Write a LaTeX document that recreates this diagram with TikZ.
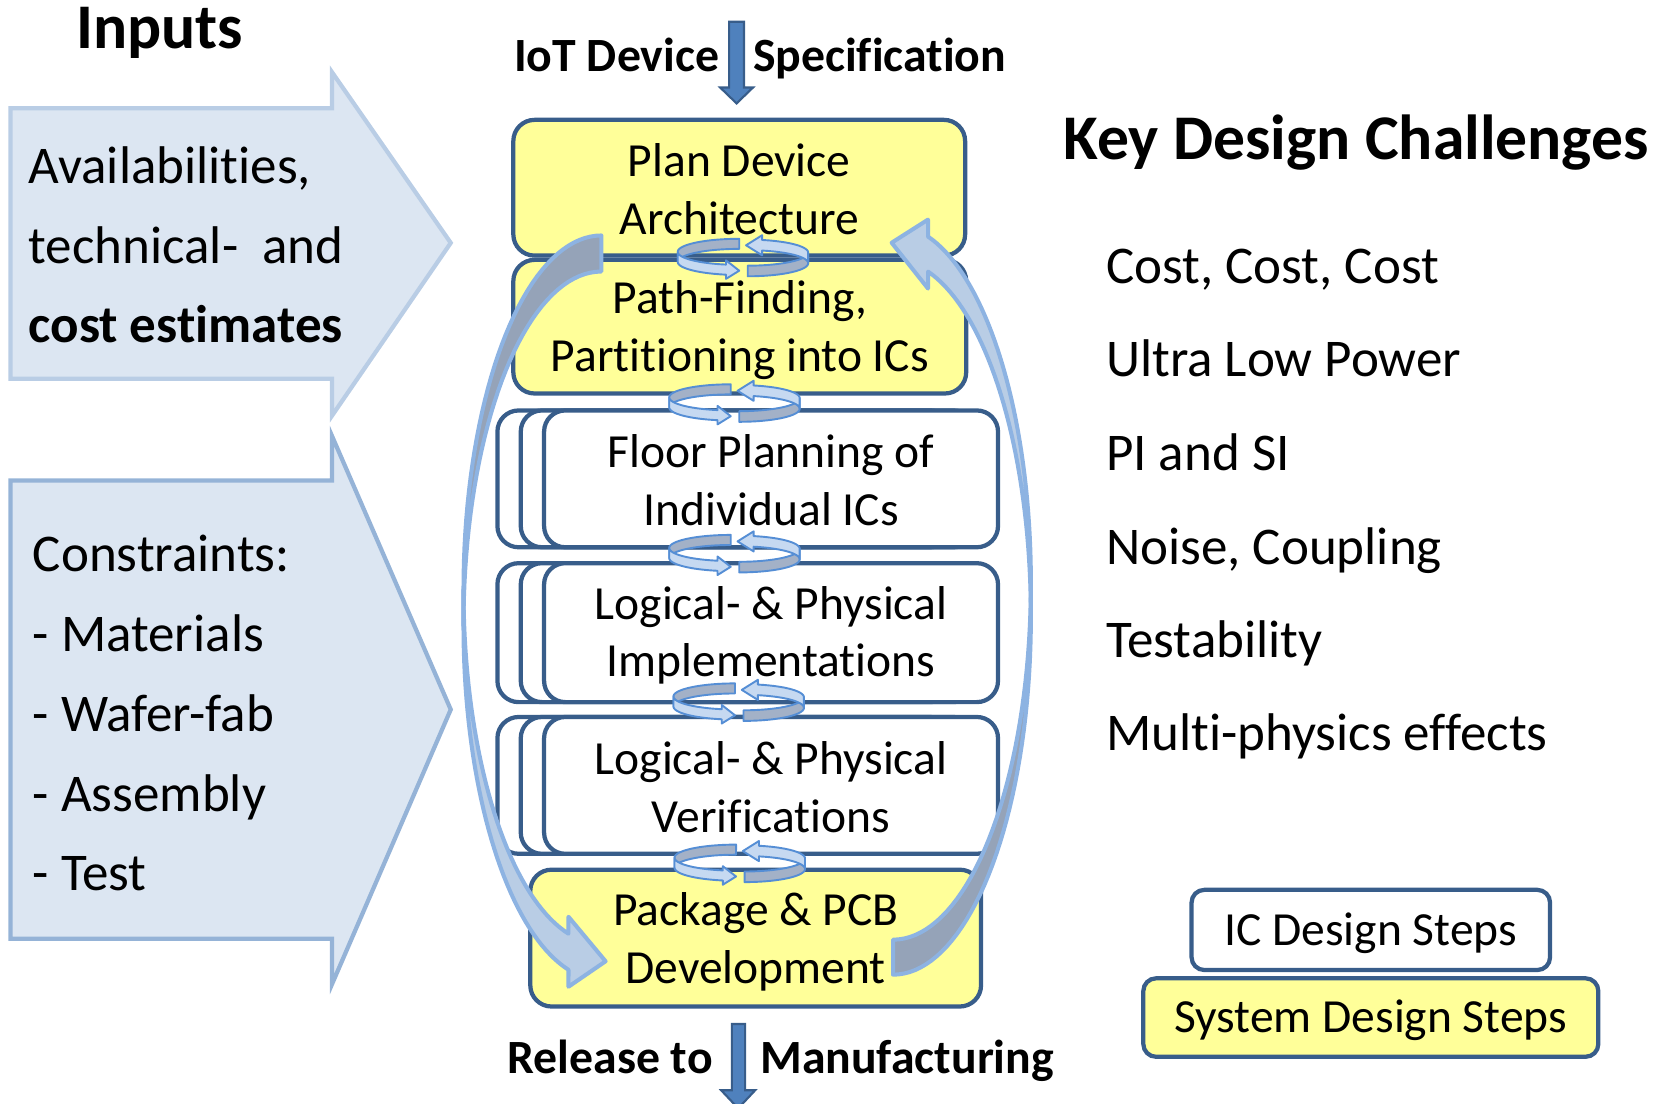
\documentclass[tikz,border=0pt]{standalone}
\usepackage{fontspec}
\setmainfont{Carlito}[Ligatures={NoCommon}]

\definecolor{boxline}{HTML}{385D8A}
\definecolor{sysfill}{HTML}{FFFF99}
\definecolor{flowfill}{HTML}{4F81BD}
\definecolor{inputfill}{HTML}{DCE6F2}
\definecolor{inputlineA}{HTML}{B9CDE5}
\definecolor{inputlineB}{HTML}{95B3D7}
\definecolor{loopline}{HTML}{8DB3E2}
\definecolor{loopback}{HTML}{95A3B8}
\definecolor{loopfront}{HTML}{B9CDE5}
\definecolor{swirlline}{HTML}{558ED5}
\definecolor{swirlback}{HTML}{A3B1C7}
\definecolor{swirlfront}{HTML}{C6D9F1}

\newcommand\boxfont{\fontsize{22.4}{27.2}\selectfont}
\newcommand\listfont{\fontsize{25}{30}\selectfont}
\newcommand\headfont{\fontsize{30}{36}\selectfont\bfseries}
\newcommand\flowfont{\fontsize{22.5}{27}\selectfont\bfseries}

\tikzset{
  stepbox/.style={draw=boxline, line width=2pt, rounded corners=10pt, inner sep=0pt},
  icstep/.style={stepbox, fill=white},
  sysstep/.style={stepbox, fill=sysfill},
  steptext/.style={inner sep=0pt, align=center, font=\boxfont},
  big back/.style={fill=loopback, draw=loopline, line width=1.9pt, line join=round},
  big front/.style={fill=loopfront, draw=loopline, line width=1.9pt, line join=round},
  small back/.style={fill=swirlback, draw=swirlline, line width=0.9pt, line join=round},
  small front/.style={fill=swirlfront, draw=swirlline, line width=0.9pt, line join=round},
  flowarrow/.style={fill=flowfill, draw=boxline, line width=1pt},
  inputA/.style={fill=inputfill, draw=inputlineA, line width=2pt},
  inputB/.style={fill=inputfill, draw=inputlineB, line width=2pt},
  plain/.style={inner sep=0pt, outer sep=0pt},
}

% Ribbon arrow bent along two vertically offset half ellipses:
% the back face runs from the tail (top) to the leftmost point,
% the front face from there down to the head, which points right.
% #1 placement, #2 x radius, #3 y radius, #4 band offset, #5 head base x,
% #6 barb overhang, #7 tip x, #8 tip drop, #9 style family (big/small)
\newcommand\curlarrow[9]{%
  \begin{scope}[#1]
    \pgfmathsetmacro\hang{acos((#5)/(#2))}
    \pgfmathsetmacro\hsin{sin(\hang)}
    \filldraw[#9 back]
      plot[variable=\t,domain=0:1,samples=40] ({#2*cos(-90-90*\t)},{-#4/2+#3*sin(-90-90*\t)})
      -- plot[variable=\t,domain=0:1,samples=40] ({#2*cos(-180+90*\t)},{#4/2+#3*sin(-180+90*\t)})
      -- cycle;
    \filldraw[#9 front]
      plot[variable=\t,domain=0:1,samples=40] ({#2*cos(180-(180-\hang)*\t)},{-#4/2+#3*sin(180-(180-\hang)*\t)})
      -- (#5,{-#4/2+#3*\hsin-#6}) -- (#7,{#3*\hsin+#8}) -- (#5,{#4/2+#3*\hsin+#6})
      -- plot[variable=\t,domain=0:1,samples=40] ({#2*cos(\hang+(180-\hang)*\t)},{#4/2+#3*sin(\hang+(180-\hang)*\t)})
      -- cycle;
  \end{scope}}

% Pair of small ribbon arrows turning round each other between two steps
\newcommand\swirl[2]{%
  \curlarrow{shift={(#1-4,#2)}}{58}{12.3}{9.5}{-12.5}{4}{0}{1}{small}%
  \curlarrow{shift={(#1+4,#2+1)},rotate=180}{57}{12.3}{10}{-13.6}{4.5}{1.6}{0}{small}}

\begin{document}
\begin{tikzpicture}[x=0.5pt,y=-0.5pt]
\useasboundingbox (0,0) rectangle (1568,1040);

% ---------- inputs on the left ----------
\node[plain, anchor=base west, font=\headfont] (inputs) at (72,46) {Inputs};
\draw[inputA] (10,102) -- (313,102) -- (313,68) -- (425,229) -- (313,392) -- (313,357) -- (10,357) -- cycle;
\draw[inputB] (10,453) -- (313,453) -- (313,411) -- (425,669) -- (313,928) -- (313,885) -- (10,885) -- cycle;

\node[plain, anchor=base west, font=\listfont] (avail) at (27,173) {Availabilities,};
\node[plain, anchor=base west, font=\listfont] (techn) at (27,248) {technical-\ \ and};
\node[plain, anchor=base west, font=\listfont\bfseries] (costest) at (27,323) {cost estimates};

\node[plain, anchor=base west, font=\listfont] (constr) at (31,539) {Constraints:};
\node[plain, anchor=base west, font=\listfont] (matl) at (31,614) {- Materials};
\node[plain, anchor=base west, font=\listfont] (wafer) at (31,690) {- Wafer-fab};
\node[plain, anchor=base west, font=\listfont] (assy) at (31,765) {- Assembly};
\node[plain, anchor=base west, font=\listfont] (test) at (31,840) {- Test};

% ---------- entry and exit of the flow ----------
\node[plain, anchor=base east, font=\flowfont] (specL) at (678,67) {IoT Device};
\node[plain, anchor=base west, font=\flowfont] (specR) at (710,67) {Specification};
\draw[flowarrow] (687.5,20.5) -- (701.5,20.5) -- (701.5,82.5) -- (710,82.5) -- (694.5,97.5)
  -- (679,82.5) -- (687.5,82.5) -- cycle;

\node[plain, anchor=base east, font=\flowfont] (relL) at (672,1012) {Release to};
\node[plain, anchor=base west, font=\flowfont] (relR) at (717,1012) {Manufacturing};
\draw[flowarrow] (690,965.5) -- (702.5,965.5) -- (702.5,1028) -- (712,1028) -- (696,1045)
  -- (680,1028) -- (690,1028) -- cycle;

% ---------- design steps ----------
\node[sysstep, minimum width=213.5pt, minimum height=63pt] (path) at (697.5,308) {};
\node[sysstep, minimum width=213pt, minimum height=64pt] (plan) at (697,177) {};
\node[steptext] (pathT) at (697.5,311.5) {Path-Finding,\\Partitioning into ICs};
\node[steptext] (planT) at (697,178.5) {Plan Device\\Architecture};

\node[icstep, minimum width=214pt, minimum height=64.5pt] (floorB) at (683,451.5) {};
\node[icstep, minimum width=214pt, minimum height=64.5pt] (floorA) at (705,451.5) {};
\node[icstep, minimum width=214pt, minimum height=64.5pt] (floor) at (727,451.5) {};
\node[steptext] (floorT) at (727,452.5) {Floor Planning of\\Individual ICs};

\node[icstep, minimum width=214pt, minimum height=65.5pt] (implB) at (683,596.5) {};
\node[icstep, minimum width=214pt, minimum height=65.5pt] (implA) at (705,596.5) {};
\node[icstep, minimum width=214pt, minimum height=65.5pt] (impl) at (727,596.5) {};
\node[steptext] (implT) at (727,599) {Logical- \& Physical\\Implementations};

\node[icstep, minimum width=214pt, minimum height=64.5pt] (verifB) at (683,740.5) {};
\node[icstep, minimum width=214pt, minimum height=64.5pt] (verifA) at (705,740.5) {};
\node[icstep, minimum width=214pt, minimum height=64.5pt] (verif) at (727,740.5) {};
\node[steptext] (verifT) at (727,742) {Logical- \& Physical\\Verifications};

\node[sysstep, minimum width=212.5pt, minimum height=64.5pt] (pkg) at (712.5,884.5) {};
\node[steptext] (pkgT) at (712.5,888) {Package \& PCB\\Development};

% ---------- iteration arrows ----------
\curlarrow{shift={(567,573)}}{130}{334}{34}{-31}{16}{4}{9}{big}
\curlarrow{shift={(842,565.5)},rotate=180}{130}{337}{33}{-33}{16}{1.3}{10.7}{big}

\swirl{701}{242.2}
\swirl{693}{379.4}
\swirl{693}{521.4}
\swirl{697}{661.4}
\swirl{698}{813.4}

% ---------- key design challenges ----------
\node[plain, anchor=base west, font=\headfont] (kdc) at (1003,150) {Key Design Challenges};
\node[plain, anchor=base west, font=\listfont] (ch1) at (1043,267) {Cost, Cost, Cost};
\node[plain, anchor=base west, font=\listfont] (ch2) at (1043,355) {Ultra Low Power};
\node[plain, anchor=base west, font=\listfont] (ch3) at (1043,444) {PI and SI};
\node[plain, anchor=base west, font=\listfont] (ch4) at (1043,532) {Noise, Coupling};
\node[plain, anchor=base west, font=\listfont] (ch5) at (1043,620) {Testability};
\node[plain, anchor=base west, font=\listfont] (ch6) at (1043,708) {Multi-physics effects};

% ---------- legend ----------
\node[icstep, rounded corners=6pt, minimum width=169pt, minimum height=37.8pt] (legIC)
  at (1292.5,876.8) {};
\node[steptext] (legICT) at (1292.5,879.5) {IC Design Steps};
\node[sysstep, rounded corners=6pt, minimum width=214.5pt, minimum height=37pt] (legSys)
  at (1292.5,959.4) {};
\node[steptext] (legSysT) at (1292.5,962) {System Design Steps};
\end{tikzpicture}
\end{document}
